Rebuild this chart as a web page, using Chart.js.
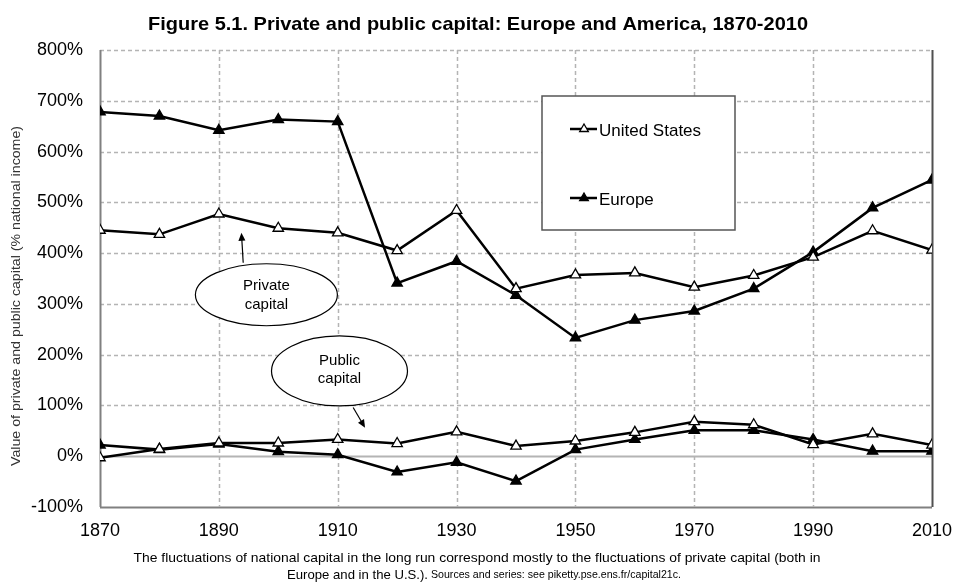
<!DOCTYPE html>
<html><head><meta charset="utf-8">
<script src="https://cdn.jsdelivr.net/npm/chart.js@4.4.1/dist/chart.umd.min.js"></script>
<style>html,body{margin:0;padding:0;background:#fff;}#wrap{width:954px;height:585px;position:relative;}</style>
</head><body><div id="wrap"><canvas id="c" width="954" height="585"></canvas></div>
<script>
const years = [1870,1880,1890,1900,1910,1920,1930,1940,1950,1960,1970,1980,1990,2000,2010];
const usPrivate = [445,437,477,449,440,405,484,330,357,361,333,356,392,444,406];
const europePrivate = [678,670,642,663,659,341,384,317,233,268,286,330,402,489,544];
const usPublic = [-3,14,26,26,33,25,48,20,30,47,68,62,23,44,22];
const europePublic = [22,13,24,9,3,-31,-12,-49,13,33,51,51,33,10,10];
const yTicks = [-100,0,100,200,300,400,500,600,700,800];
const xTicks = [1870,1890,1910,1930,1950,1970,1990,2010];
const seriesNames = ['United States','Europe'];
const titleText = 'Figure 5.1. Private and public capital: Europe and America, 1870-2010';
const yTitle = 'Value of private and public capital (% national income)';
const footer1 = 'The fluctuations of national capital in the long run correspond mostly to the fluctuations of private capital (both in';
const footer2a = 'Europe and in the U.S.).';
const footer2b = ' Sources and series: see piketty.pse.ens.fr/capital21c.';

const FONT = '"Liberation Sans", Arial, Helvetica, sans-serif';

function pts(arr){ return years.map((x,i)=>({x:x,y:arr[i]})); }
function ds(label, arr, fill){
  return {label:label, data:pts(arr), borderColor:'#000', borderWidth:2.5,
    pointStyle:'triangle', pointRadius:6, pointHoverRadius:6,
    pointBackgroundColor:fill, pointBorderColor:'#000', pointBorderWidth:1.3,
    tension:0, fill:false};
}

function fitText(ctx, text, cx, cy, font, width){
  ctx.save();
  ctx.font = font;
  const w = ctx.measureText(text).width;
  ctx.translate(cx, cy);
  if (width) ctx.scale(width / w, 1);
  ctx.textAlign = 'center';
  ctx.textBaseline = 'middle';
  ctx.fillText(text, 0, 0);
  ctx.restore();
}

function arrow(ctx, x1, y1, x2, y2){
  const a = Math.atan2(y2-y1, x2-x1);
  const L = 8, W = 3.5;
  ctx.beginPath(); ctx.moveTo(x1,y1); ctx.lineTo(x2 - Math.cos(a)*L*0.8, y2 - Math.sin(a)*L*0.8); ctx.stroke();
  ctx.beginPath();
  ctx.moveTo(x2,y2);
  ctx.lineTo(x2 - Math.cos(a)*L + Math.sin(a)*W, y2 - Math.sin(a)*L - Math.cos(a)*W);
  ctx.lineTo(x2 - Math.cos(a)*L - Math.sin(a)*W, y2 - Math.sin(a)*L + Math.cos(a)*W);
  ctx.closePath(); ctx.fill();
}

function tri(ctx, x, y, r, fill){
  ctx.beginPath();
  for (let k=0;k<3;k++){
    const ang = k*2*Math.PI/3;
    const px = x + Math.sin(ang)*r, py = y - Math.cos(ang)*r;
    if (k===0) ctx.moveTo(px,py); else ctx.lineTo(px,py);
  }
  ctx.closePath();
  ctx.fillStyle = fill; ctx.fill();
  ctx.lineWidth = 1.3; ctx.strokeStyle = '#000'; ctx.stroke();
}

const decor = {
  id:'decor',
  beforeDraw(chart){
    const ctx = chart.ctx;
    ctx.save(); ctx.fillStyle='#fff'; ctx.fillRect(0,0,chart.width,chart.height); ctx.restore();
  },
  beforeDatasetsDraw(chart){
    const {ctx, chartArea:a, scales:{x,y}} = chart;
    ctx.save();
    yTicks.forEach(v=>{
      const py = Math.round(y.getPixelForValue(v)) + 0.5;
      ctx.beginPath();
      if (v === yTicks[0]) { ctx.setLineDash([]); ctx.strokeStyle='#808080'; ctx.lineWidth=2; }
      else if (v === 0) { ctx.setLineDash([]); ctx.strokeStyle='#b4b4b4'; ctx.lineWidth=2; }
      else { ctx.setLineDash([4,3]); ctx.strokeStyle='#b4b4b4'; ctx.lineWidth=1.5; }
      ctx.moveTo(a.left, py); ctx.lineTo(a.right, py); ctx.stroke();
    });
    xTicks.forEach((v,i)=>{
      const px = Math.round(x.getPixelForValue(v)) + 0.5;
      ctx.beginPath();
      if (i === 0) { ctx.setLineDash([]); ctx.strokeStyle='#808080'; ctx.lineWidth=2; }
      else if (i === xTicks.length-1) { ctx.setLineDash([]); ctx.strokeStyle='#505050'; ctx.lineWidth=2; }
      else { ctx.setLineDash([4,3]); ctx.strokeStyle='#b4b4b4'; ctx.lineWidth=1.5; }
      ctx.moveTo(px, a.top); ctx.lineTo(px, a.bottom); ctx.stroke();
    });
    ctx.restore();
  },
  afterDatasetsDraw(chart){
    const {ctx, scales:{x,y}} = chart;
    ctx.save();
    ctx.strokeStyle='#000'; ctx.fillStyle='#000'; ctx.lineWidth=1.2;
    const pcx = x.getPixelForValue(1898), pcy = y.getPixelForValue(318);
    ctx.beginPath(); ctx.ellipse(pcx, pcy, 71, 31, 0, 0, 2*Math.PI);
    ctx.fillStyle='#fff'; ctx.fill(); ctx.stroke();
    ctx.fillStyle='#000';
    fitText(ctx, 'Private', pcx, pcy-9, '15px '+FONT);
    fitText(ctx, 'capital', pcx, pcy+10, '15px '+FONT);
    arrow(ctx, x.getPixelForValue(1894.1), y.getPixelForValue(381), x.getPixelForValue(1893.8), y.getPixelForValue(440));
    const qcx = x.getPixelForValue(1910.3), qcy = y.getPixelForValue(168);
    ctx.beginPath(); ctx.ellipse(qcx, qcy, 68, 35, 0, 0, 2*Math.PI);
    ctx.fillStyle='#fff'; ctx.fill(); ctx.stroke();
    ctx.fillStyle='#000';
    fitText(ctx, 'Public', qcx, qcy-10, '15px '+FONT);
    fitText(ctx, 'capital', qcx, qcy+8, '15px '+FONT);
    arrow(ctx, x.getPixelForValue(1912.6), y.getPixelForValue(96), x.getPixelForValue(1914.6), y.getPixelForValue(56));
    ctx.fillStyle='#fff'; ctx.fillRect(542, 96, 193, 134);
    ctx.strokeStyle='#555'; ctx.lineWidth=1.5; ctx.strokeRect(542, 96, 193, 134);
    const rows = [[seriesNames[0], 129, '#fff'], [seriesNames[1], 198, '#000']];
    rows.forEach(r=>{
      ctx.strokeStyle='#000'; ctx.lineWidth=2.5;
      ctx.beginPath(); ctx.moveTo(570, r[1]); ctx.lineTo(597, r[1]); ctx.stroke();
      tri(ctx, 584, r[1], 5, r[2]);
      ctx.fillStyle='#000'; ctx.font='17px '+FONT; ctx.textAlign='left'; ctx.textBaseline='middle';
      ctx.fillText(r[0], 599, r[1]+2);
    });
    ctx.restore();
  },
  afterDraw(chart){
    const ctx = chart.ctx;
    ctx.save();
    ctx.fillStyle='#000';
    fitText(ctx, titleText, 478, 25, 'bold 19px '+FONT, 660);
    fitText(ctx, footer1, 477, 558, '13px '+FONT, 687);
    ctx.font='13px '+FONT; const wa = ctx.measureText(footer2a).width;
    ctx.font='10.5px '+FONT; const wb = ctx.measureText(footer2b).width;
    const s = 394/(wa + wb);
    ctx.translate(287, 575); ctx.scale(s,1);
    ctx.textAlign='left'; ctx.textBaseline='middle';
    ctx.font='13px '+FONT; ctx.fillText(footer2a, 0, 0);
    ctx.font='10.5px '+FONT; ctx.fillText(footer2b, wa, 0.5);
    ctx.restore();
    ctx.save();
    ctx.fillStyle='#333';
    ctx.translate(16, 296); ctx.rotate(-Math.PI/2);
    ctx.textAlign='center'; ctx.textBaseline='middle';
    fitText(ctx, yTitle, 0, 0, '13px '+FONT, 340);
    ctx.restore();
  }
};

new Chart(document.getElementById('c'), {
  type:'line',
  data:{ datasets:[
    ds(seriesNames[0]+' private', usPrivate, '#fff'),
    ds(seriesNames[1]+' private', europePrivate, '#000'),
    ds(seriesNames[0]+' public', usPublic, '#fff'),
    ds(seriesNames[1]+' public', europePublic, '#000')
  ]},
  options:{
    responsive:false, animation:false,
    layout:{padding:{top:50, right:22, left:0, bottom:0}},
    plugins:{legend:{display:false}, tooltip:{enabled:false}, title:{display:false}},
    scales:{
      x:{type:'linear', min:1870, max:2010,
        afterBuildTicks(s){ s.ticks = xTicks.map(v=>({value:v})); },
        afterFit(s){ s.height = 78; s.paddingLeft = 0; s.paddingRight = 0; },
        grid:{display:false, drawTicks:false}, border:{display:false},
        ticks:{color:'#000', font:{family:FONT, size:18}, padding:13, maxRotation:0, autoSkip:false, callback:v=>String(v)}
      },
      y:{type:'linear', min:-100, max:800,
        afterBuildTicks(s){ s.ticks = yTicks.map(v=>({value:v})); },
        afterFit(s){ s.width = 100; },
        grid:{display:false, drawTicks:false}, border:{display:false},
        ticks:{color:'#000', font:{family:FONT, size:18}, padding:17, callback:v=>v+'%'}
      }
    }
  },
  plugins:[decor]
});
</script></body></html>
